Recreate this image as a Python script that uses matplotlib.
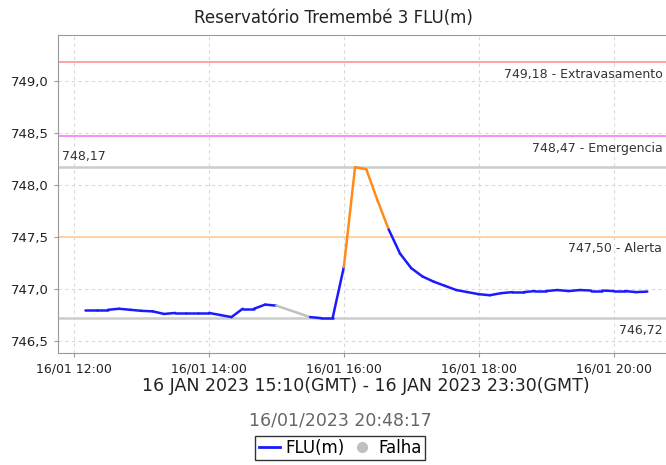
import numpy as np
import matplotlib
matplotlib.use("Agg")
import matplotlib.pyplot as plt
import matplotlib.dates as mdates
from matplotlib.lines import Line2D
from matplotlib.ticker import FuncFormatter
from datetime import datetime, timedelta

# leituras de 10 em 10 minutos, 16/01 12:10 ate 20:30 (hora local)
start = datetime(2023, 1, 16, 12, 10)
flu = [746.80, 746.80, 746.80, 746.81, 746.80,
       746.79, 746.785, 746.76, 746.77, 746.77, 746.77,
       746.77, 746.75, 746.73, 746.81, 746.81, 746.85,
       746.84, np.nan, np.nan, 746.73, 746.72, 746.72,
       747.21, 748.17, 748.15, 747.85, 747.57, 747.34,
       747.20, 747.12, 747.07, 747.03, 746.99, 746.97,
       746.95, 746.94, 746.96, 746.97, 746.97, 746.98,
       746.98, 746.99, 746.98, 746.99, 746.985, 746.985,
       746.98, 746.98, 746.97, 746.975]
times = [start + timedelta(minutes=10 * i) for i in range(len(flu))]

# cotas de referencia
ref_values = [749.18, 748.47, 747.50]
ref_names = ["Extravasamento", "Emergencia", "Alerta"]
ref_colors = ["#ff9c9c", "#ff80ff", "#ffcf9f"]
max_val = 748.17
min_val = 746.72

title = "Reservatório Tremembé 3 FLU(m)"
subtitle = "16 JAN 2023 15:10(GMT) - 16 JAN 2023 23:30(GMT)"
stamp = "16/01/2023 20:48:17"

fig = plt.figure(figsize=(6.66, 4.65), dpi=100)
ax = fig.add_axes([58 / 666, 1 - 353 / 465, 614 / 666, 318 / 465])

ax.set_ylim(746.385, 749.44)
ax.set_xlim(datetime(2023, 1, 16, 11, 45, 40), datetime(2023, 1, 16, 20, 52))
ax.set_yticks([746.5, 747.0, 747.5, 748.0, 748.5, 749.0])
ax.yaxis.set_major_formatter(FuncFormatter(lambda v, p: ("%.1f" % v).replace(".", ",")))
ax.xaxis.set_major_locator(mdates.HourLocator(byhour=[12, 14, 16, 18, 20]))
ax.xaxis.set_major_formatter(mdates.DateFormatter("%d/%m %H:%M"))
ax.grid(True, color="#d9d9d9", linestyle=(0, (3, 3)), linewidth=0.8)
ax.set_axisbelow(True)
for s in ax.spines.values():
    s.set_color("#999999")
    s.set_linewidth(0.8)
ax.spines["right"].set_visible(False)
ax.tick_params(colors="#999999", labelcolor="#222222", labelsize=9, length=3)
for t in ax.get_yticklabels():
    t.set_fontsize(9.5)

for v, n, c in zip(ref_values, ref_names, ref_colors):
    ax.axhline(v, color=c, linewidth=1.3, zorder=2)
    ax.annotate(("%.2f - " % v).replace(".", ",") + n, xy=(1.0, v), xycoords=("axes fraction", "data"),
                xytext=(-7, -4), textcoords="offset points", ha="right", va="top",
                fontsize=9, color="#333333")
ax.axhline(max_val, color="#cccccc", linewidth=1.8, zorder=2)
ax.axhline(min_val, color="#cccccc", linewidth=1.8, zorder=2)
ax.annotate(("%.2f" % max_val).replace(".", ","), xy=(0.0, max_val), xycoords=("axes fraction", "data"),
            xytext=(3, 3), textcoords="offset points", ha="left", va="bottom", fontsize=9, color="#333333")
ax.annotate(("%.2f" % min_val).replace(".", ","), xy=(1.0, min_val), xycoords=("axes fraction", "data"),
            xytext=(-7, -4), textcoords="offset points", ha="right", va="top", fontsize=9, color="#333333")

# segmentos: cor pelo ponto final, cinza onde faltam dados
alerta = ref_values[2]
last = None
for i in range(len(flu)):
    if np.isnan(flu[i]):
        continue
    if last is not None:
        if i - last > 1:
            col = "#c0c0c0"
        elif flu[i] > alerta:
            col = "#ff8c1a"
        else:
            col = "#1a1aff"
        ax.plot([times[last], times[i]], [flu[last], flu[i]], color=col, linewidth=1.8,
                solid_capstyle="round", zorder=3)
    last = i

fig.text(0.5, 1 - 18 / 465, title, ha="center", va="center", fontsize=12, color="#222222")
fig.text(366 / 666, 1 - 386 / 465, subtitle, ha="center", va="center", fontsize=12.5, color="#222222")
fig.text(340 / 666, 1 - 420 / 465, stamp, ha="center", va="center", fontsize=12.5, color="#666666")

handles = [Line2D([], [], color="#1a1aff", linewidth=2),
           Line2D([], [], color="#c0c0c0", marker="o", linestyle="none", markersize=7)]
leg = fig.legend(handles, ["FLU(m)", "Falha"], loc="center", bbox_to_anchor=(340 / 666, 1 - 448 / 465),
                 ncol=2, frameon=True, fancybox=False, fontsize=12, handlelength=1.3,
                 handletextpad=0.3, columnspacing=0.4, borderpad=0.2, borderaxespad=0)
leg.get_frame().set_edgecolor("black")
leg.get_frame().set_linewidth(1.0)

fig.savefig("out.png", dpi=100)
